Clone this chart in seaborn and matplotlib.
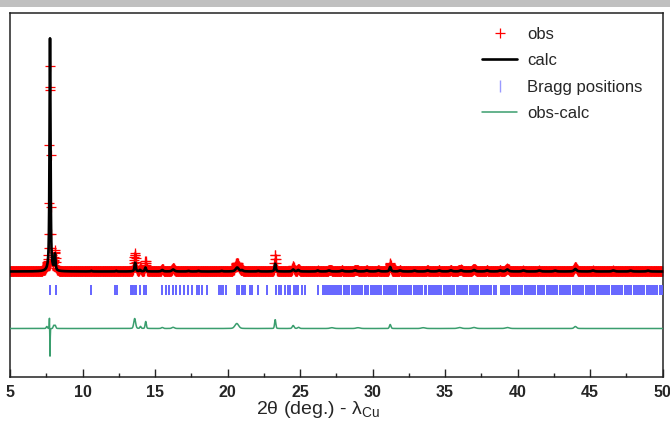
import numpy as np
import pandas as pd
import matplotlib
matplotlib.use("Agg")
import matplotlib.pyplot as plt
from matplotlib.patches import Rectangle
from matplotlib.lines import Line2D
import seaborn as sns

# ---------------- data ----------------
# measurement grid (2theta, deg)
two_theta_start, two_theta_stop, two_theta_step = 5.0, 50.0, 0.02

# calculated pattern: peak positions (deg), heights (a.u.), FWHM (deg)
calc_pos = [7.76, 8.10, 10.61, 12.33, 13.63, 13.97, 14.34, 15.50, 16.25, 17.30,
            18.00, 19.60, 20.67, 21.00, 22.12, 23.29, 24.53, 24.88, 26.22, 27.00,
            27.90, 28.80, 29.60, 30.40, 31.22, 31.90, 32.90, 33.80, 34.60, 35.40,
            36.10, 37.00, 37.90, 38.80, 39.30, 40.40, 41.50, 42.60, 43.99, 45.20,
            46.60, 47.80, 49.00]
calc_height = [233, 16, 0.6, 0.6, 9, 1.5, 4, 1.5, 2, 0.6,
               0.6, 0.6, 4, 1.2, 0.6, 8, 2, 1.5, 1.0, 1.0,
               1.0, 1.2, 1.0, 1.0, 4.5, 1.0, 0.8, 1.0, 1.0, 1.2,
               1.2, 1.5, 1.0, 1.0, 2.0, 1.0, 1.0, 0.8, 2.5, 1.0,
               1.0, 0.8, 0.8]
calc_fwhm = [0.08, 0.09, 0.10, 0.10, 0.10, 0.10, 0.10, 0.15, 0.20, 0.15,
             0.15, 0.15, 0.25, 0.15, 0.15, 0.10, 0.15, 0.15, 0.15, 0.20,
             0.20, 0.20, 0.20, 0.20, 0.12, 0.20, 0.20, 0.20, 0.20, 0.20,
             0.20, 0.20, 0.20, 0.20, 0.20, 0.20, 0.20, 0.20, 0.20, 0.20,
             0.20, 0.20, 0.20]

# difference (obs - calc) features: positions, amplitudes, widths
diff_pos = [7.54, 7.72, 7.76, 8.02, 8.12, 13.60, 14.00, 14.36, 15.50, 16.25,
            20.64, 23.29, 24.53, 24.90, 27.2, 29.0, 31.22, 33.5, 36.0, 37.0,
            39.3, 43.99]
diff_amp = [2, 11, -28, 3, 3, 10, 2, 7, 1, 1.2,
            5, 9, 3, 1.2, 0.8, 0.8, 4, 0.8, 1, 1,
            1, 2]
diff_fwhm = [0.10, 0.03, 0.03, 0.10, 0.10, 0.15, 0.10, 0.10, 0.15, 0.20,
             0.30, 0.10, 0.15, 0.15, 0.3, 0.3, 0.12, 0.3, 0.3, 0.3,
             0.3, 0.2]

# Bragg reflection positions (deg)
bragg_pos = [7.76, 8.15, 10.61, 12.25, 12.41, 13.33, 13.42, 13.50, 13.60, 13.70,
             13.97, 14.25, 14.36, 15.51, 15.75, 15.97, 16.27, 16.46, 16.73, 17.01,
             17.31, 17.58, 17.88, 18.02, 18.23, 18.58, 19.42, 19.56, 19.68, 19.91,
             20.67, 20.77, 20.98, 21.08, 21.18, 21.56, 21.70, 22.12, 22.74, 23.36,
             23.56, 23.70, 23.98, 24.19, 24.32, 24.60, 24.74, 24.88, 25.15, 25.36,
             26.22,
             26.62, 26.74, 26.88, 27.00, 27.14, 27.30, 27.41, 27.55, 27.70, 27.82,
             28.00, 28.13, 28.26, 28.40, 28.58, 28.70, 28.85, 29.00, 29.12, 29.30,
             29.45, 29.58, 29.72, 29.90, 30.05, 30.18, 30.30, 30.48, 30.60, 30.76,
             30.90, 31.05, 31.20, 31.33, 31.50, 31.62, 31.80, 31.95, 32.08, 32.22,
             32.40, 32.55, 32.68, 32.83, 33.00, 33.12, 33.27, 33.42, 33.60, 33.72,
             33.88, 34.02, 34.18, 34.30, 34.47, 34.60, 34.75, 34.90, 35.05, 35.20,
             35.36, 35.50, 35.64, 35.80, 35.95, 36.10, 36.24, 36.40, 36.53, 36.70,
             36.85, 37.00, 37.14, 37.30, 37.45, 37.60, 37.75, 37.90, 38.03, 38.20,
             38.35, 38.50,
             38.84, 39.00, 39.15, 39.30, 39.44, 39.60, 39.75, 39.90, 40.05, 40.20,
             40.34, 40.50, 40.64, 40.80, 40.95, 41.10, 41.24, 41.40, 41.55, 41.70,
             41.84, 42.00, 42.15, 42.30, 42.44, 42.60, 42.75, 42.90, 43.05, 43.20,
             43.34, 43.50, 43.65, 43.80, 43.95, 44.10, 44.24, 44.40, 44.55, 44.70,
             44.85, 45.00, 45.14, 45.30, 45.45, 45.60, 45.75, 45.90, 46.05, 46.20,
             46.34, 46.50, 46.65, 46.80, 46.95, 47.10, 47.24, 47.40, 47.55, 47.70,
             47.85, 48.00, 48.14, 48.30, 48.45, 48.60, 48.75, 48.90, 49.05, 49.20,
             49.34, 49.50, 49.65, 49.80, 49.95]

x_ticks = [5, 10, 15, 20, 25, 30, 35, 40, 45, 50]
x_tick_labels = ["5", "10", "15", "20", "25", "30", "35", "40", "45", "50"]
legend_labels = ["obs", "calc", "Bragg positions", "obs-calc"]

# ---------------- build profiles from the peak tables ----------------
tt = np.arange(two_theta_start, two_theta_stop + 1e-9, two_theta_step)


def pv(x, c, h, w, eta=0.7):
    g = np.exp(-4 * np.log(2) * ((x - c) / w) ** 2)
    l = 1.0 / (1.0 + 4 * ((x - c) / w) ** 2)
    return h * (eta * l + (1 - eta) * g)


calc = np.zeros_like(tt)
for c, h, w in zip(calc_pos, calc_height, calc_fwhm):
    calc += pv(tt, c, h, w)
diff = np.zeros_like(tt)
for c, h, w in zip(diff_pos, diff_amp, diff_fwhm):
    diff += pv(tt, c, h, w, eta=0.2)
obs = calc + diff

diff_offset = -57.0
bragg_level = -18.0

df = pd.DataFrame({"tt": tt, "obs": obs, "calc": calc, "diff": diff + diff_offset})
bragg_df = pd.DataFrame({"tt": bragg_pos, "y": [bragg_level] * len(bragg_pos)})

# ---------------- plot ----------------
sns.set_style("white")
plt.rcParams["font.family"] = ["Liberation Sans", "DejaVu Sans"]
plt.rcParams["mathtext.fontset"] = "custom"
plt.rcParams["mathtext.rm"] = "Liberation Sans"
plt.rcParams["mathtext.it"] = "Liberation Sans"

fig = plt.figure(figsize=(6.7, 4.25), dpi=100)
ax = fig.add_axes([10 / 670, 1 - 377 / 425, 652.5 / 670, (377 - 12.5) / 425])

red = "#ff0000"
green = "#3a9e6e"
blue = "#6464ff"

sns.scatterplot(data=df, x="tt", y="obs", marker="+", color=red, s=44,
                linewidth=0.9, ax=ax, legend=False, zorder=2)
sns.lineplot(data=df, x="tt", y="calc", color="black", linewidth=1.9,
             sort=False, estimator=None, ax=ax, legend=False, zorder=3)
sns.scatterplot(data=bragg_df, x="tt", y="y", marker="|", color=blue, s=52,
                linewidth=1.4, ax=ax, legend=False, zorder=3)
sns.lineplot(data=df, x="tt", y="diff", color=green, linewidth=1.1,
             sort=False, estimator=None, ax=ax, legend=False, zorder=3)

ax.set_xlim(5, 50)
ax.set_ylim(-105.5, 259)
ax.set_yticks([])
ax.set_xticks(x_ticks)
ax.set_xticklabels(x_tick_labels, fontsize=11.5, fontweight="bold")
ax.set_xticks([7.5, 12.5, 17.5, 22.5, 27.5, 32.5, 37.5, 42.5, 47.5], minor=True)
ax.tick_params(axis="x", which="major", direction="in", length=6, width=1,
               pad=6, bottom=True, top=False)
ax.tick_params(axis="x", which="minor", direction="in", length=3, width=1,
               bottom=True, top=False)
ax.set_xlabel("")
ax.set_ylabel("")
for s in ax.spines.values():
    s.set_color("#222222")
    s.set_linewidth(1.1)

fig.text(318 / 670, 1 - 410 / 425, r"2θ (deg.) - λ$_{\rm Cu}$", ha="center",
         va="center", fontsize=14)

handles = [
    Line2D([], [], marker="+", color=red, linestyle="none", markersize=7,
           markeredgewidth=0.9),
    Line2D([], [], color="black", linewidth=1.9),
    Line2D([], [], marker="|", color="#9a9aff", linestyle="none", markersize=9,
           markeredgewidth=1.0),
    Line2D([], [], color=green, linewidth=1.1),
]
fig.legend(handles, legend_labels, loc="upper left",
           bbox_to_anchor=(482 / 670, 1 - 27 / 425), frameon=False,
           fontsize=12, handlelength=2.1, handletextpad=0.62, labelspacing=0.68,
           borderpad=0, borderaxespad=0)

fig.add_artist(Rectangle((0, 1 - 7 / 425), 1, 7 / 425, transform=fig.transFigure,
                         facecolor="#c0c0c0", edgecolor="none"))

fig.savefig("out.png", dpi=100)
